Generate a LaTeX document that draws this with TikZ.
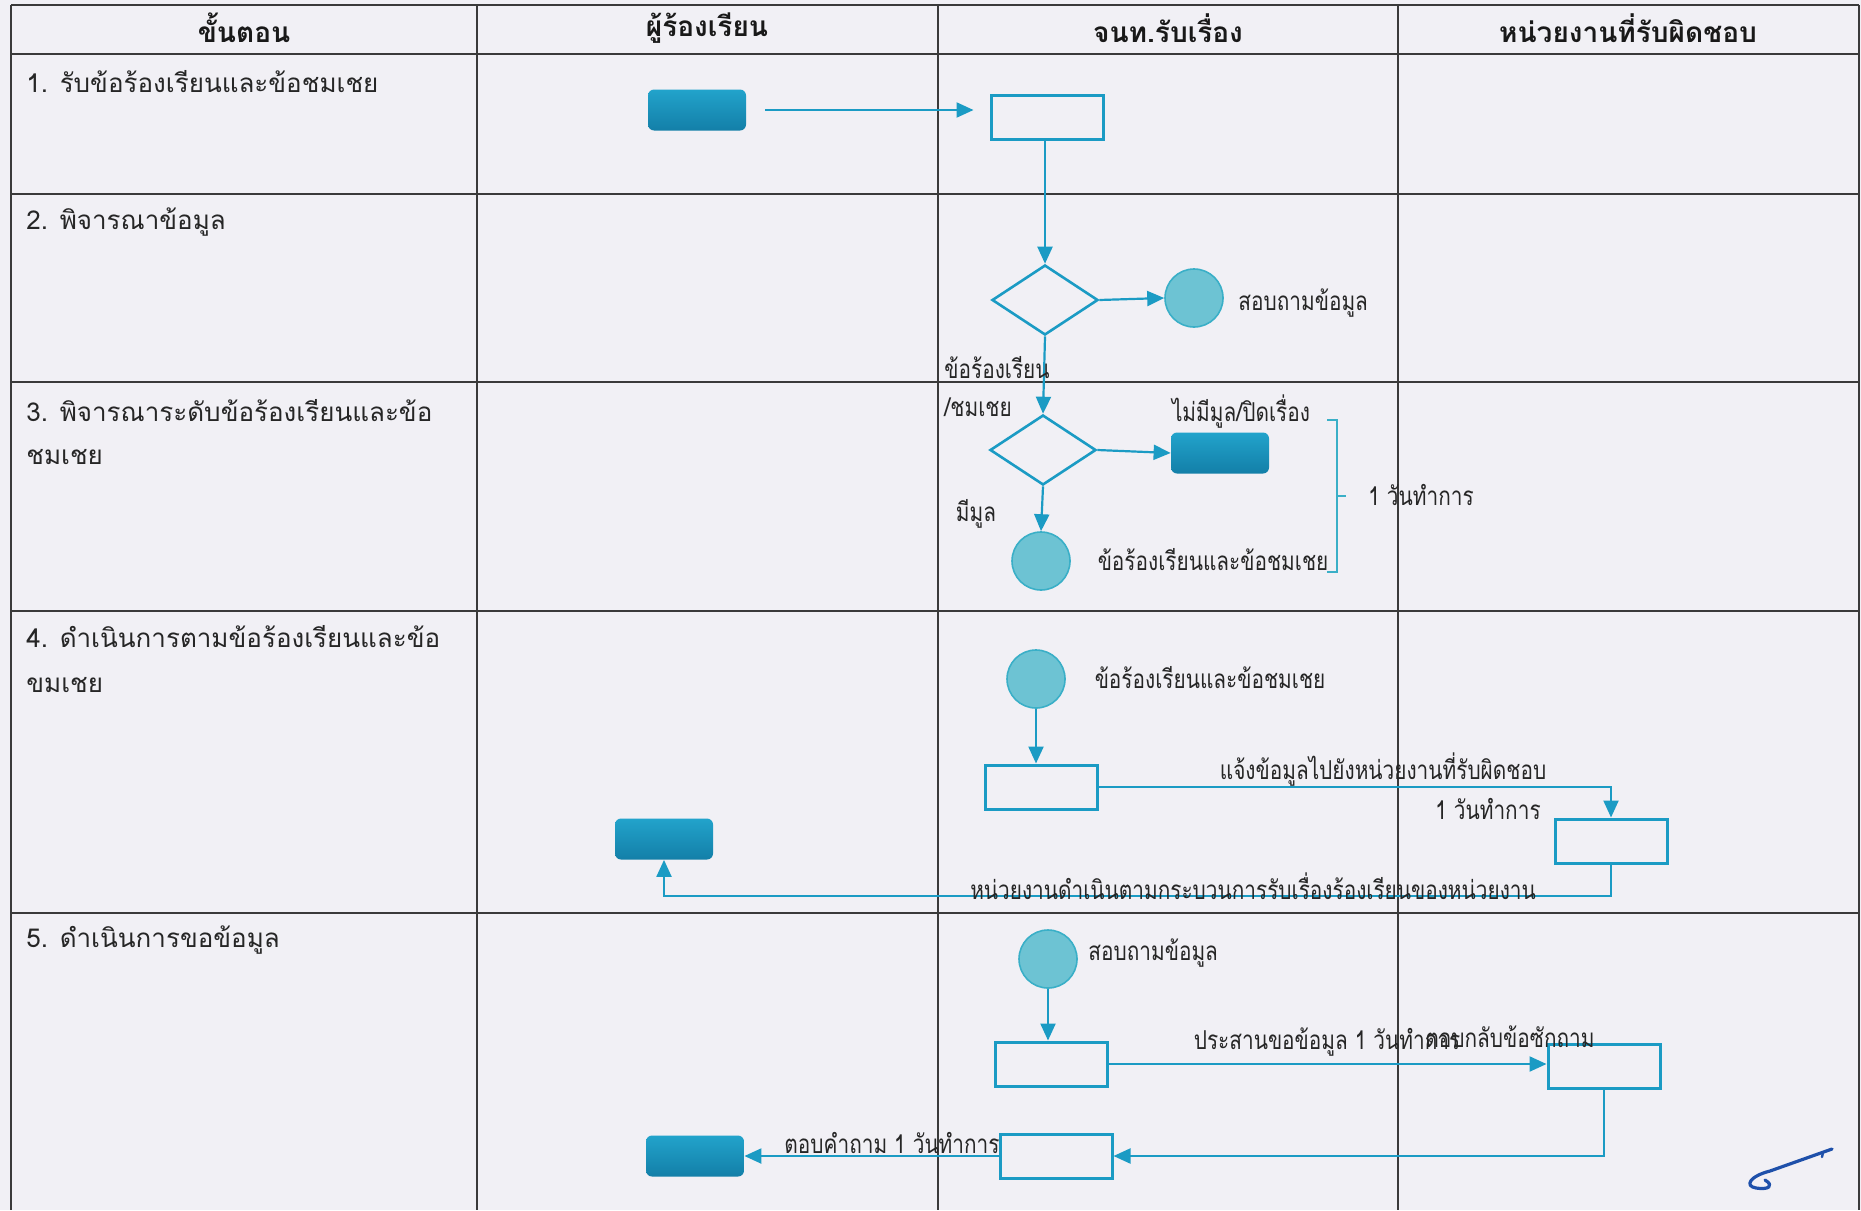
\documentclass[tikz,border=0pt]{standalone}
\usepackage{fontspec}
\newfontfamily\thaifont[Script=Thai]{Loma}
\newfontfamily\thainarrow[Script=Thai,FakeStretch=0.8]{Loma}
\usetikzlibrary{arrows.meta,shapes.geometric}
\definecolor{flow}{RGB}{27,155,196}
\definecolor{circfill}{RGB}{109,195,211}
\definecolor{circline}{RGB}{58,175,199}
\definecolor{endtop}{RGB}{34,163,203}
\definecolor{endbot}{RGB}{19,127,168}
\definecolor{paper}{RGB}{241,240,245}
\definecolor{grid}{RGB}{58,58,58}
\definecolor{sigblue}{RGB}{30,80,170}

\begin{document}
\begin{tikzpicture}[x=0.5pt,y=-0.5pt]
\tikzstyle{endbox} = [rounded corners=3pt, minimum width=49pt, minimum height=20.5pt, top color=endtop, bottom color=endbot, inner sep=0pt] % filled end box
\tikzstyle{actbox} = [rectangle, draw=flow, line width=1.5pt, minimum width=56pt, minimum height=22pt, inner sep=0pt] % white task box
\tikzstyle{decide} = [diamond, draw=flow, line width=1.3pt, minimum width=53pt, minimum height=35pt, inner sep=0pt] % decision
\tikzstyle{conn} = [circle, draw=circline, fill=circfill, line width=0.8pt, minimum size=29pt, inner sep=0pt] % connector circle
\tikzstyle{flowline} = [draw=flow, line width=1.1pt, -{Triangle[length=8.5pt,width=7.5pt]}] % arrow
\tikzstyle{lbl} = [font=\thainarrow\fontsize{13}{15}\selectfont, text=black!85, inner sep=0pt] % label on chart
\tikzstyle{steptxt} = [font=\thaifont\fontsize{13}{15}\selectfont, text=black!85, anchor=west, inner sep=0pt] % step text
\tikzstyle{headtxt} = [font=\thaifont\bfseries\fontsize{14}{16}\selectfont, text=black!90, inner sep=0pt] % header

\useasboundingbox (0,0) rectangle (1861,1210);
\fill[paper] (0,0) rectangle (1861,1210);

% table
\draw[grid, line width=0.8pt] (11,5) -- (1859,5) (11,54) -- (1859,54) (11,194) -- (1859,194)
  (11,382) -- (1859,382) (11,611) -- (1859,611) (11,913) -- (1859,913);
\draw[grid, line width=0.8pt] (11,5) -- (11,1210) (477,5) -- (477,1210) (938,5) -- (938,1210)
  (1398,5) -- (1398,1210) (1859,5) -- (1859,1210);

\node[headtxt] (h1) at (244,28) {ขั้นตอน};
\node[headtxt] (h2) at (707,28) {ผู้ร้องเรียน};
\node[headtxt] (h3) at (1168,28) {จนท.รับเรื่อง};
\node[headtxt] (h4) at (1628,28) {หน่วยงานที่รับผิดชอบ};

\node[steptxt] (s1) at (26,82) {1. รับข้อร้องเรียนและข้อชมเชย};
\node[steptxt] (s2) at (26,222) {2. พิจารณาข้อมูล};
\node[steptxt] (s3) at (26,411) {3. พิจารณาระดับข้อร้องเรียนและข้อ};
\node[steptxt] (s3b) at (26,457) {ชมเชย};
\node[steptxt] (s4) at (26,637) {4. ดำเนินการตามข้อร้องเรียนและข้อ};
\node[steptxt] (s4b) at (26,685) {ขมเชย};
\node[steptxt] (s5) at (26,940) {5. ดำเนินการขอข้อมูล};

% step 1
\node[endbox] (start1) at (697,110) {};
\node[actbox] (rect1) at (1047,117) {};
\draw[flowline, shorten <=9.5pt, shorten >=8pt] (start1.east) -- (start1.east -| rect1.west);

% step 2
\node[decide] (dec1) at (1045,300) {};
\node[conn] (q1) at (1194,298) {};
\node[lbl, anchor=west] (tq1) at (1238,303) {สอบถามข้อมูล};
\draw[flowline] (rect1.south -| dec1.north) -- (dec1.north);
\draw[flowline] (dec1.east) -- (q1.west);

% step 3
\node[decide] (dec2) at (1043,450) {};
\node[endbox] (end2) at (1220,453) {};
\node[conn] (a1) at (1041,561) {};
\draw[flowline] (dec1.south) -- (dec2.north);
\draw[flowline] (dec2.east) -- (end2.west);
\draw[flowline] (dec2.south) -- (a1.north);
\node[lbl, anchor=west] (ta) at (944,368) {ข้อร้องเรียน};
\node[lbl, anchor=west] (tb) at (944,407) {/ชมเชย};
\node[lbl] (tc) at (1241,412) {ไม่มีมูล/ปิดเรื่อง};
\node[lbl] (td) at (976,514) {มีมูล};
\node[lbl] (te) at (1213,560) {ข้อร้องเรียนและข้อชมเชย};
\draw[circline, line width=0.8pt] (1327,420) -- (1337,420) -- (1337,572) -- (1327,572) (1337,496) -- (1346,496); % bracket
\node[lbl, anchor=west] (tf) at (1368,495) {1 วันทำการ};

% step 4
\node[conn] (a2) at (1036,679) {};
\node[lbl] (tg) at (1210,678) {ข้อร้องเรียนและข้อชมเชย};
\node[actbox] (r4) at (1041,787) {};
\node[actbox] (r4b) at (1611,841) {};
\node[endbox] (end4) at (664,839) {};
\coordinate (low4) at (1611,896);
\draw[flowline] (a2.south) -- (a2.south |- r4.north);
\draw[flowline] (r4.east) -| (r4b.north);
\draw[flowline] (r4b.south) -- (low4) -| (end4.south);
\node[lbl] (th) at (1383,770) {แจ้งข้อมูลไปยังหน่วยงานที่รับผิดชอบ};
\node[lbl] (ti) at (1488,809) {1 วันทำการ};
\node[lbl] (tj) at (1253,886) {หน่วยงานดำเนินตามกระบวนการรับเรื่องร้องเรียนของหน่วยงาน};

% step 5
\node[conn] (q2) at (1048,959) {};
\node[lbl, anchor=west] (tk) at (1088,953) {สอบถามข้อมูล};
\node[actbox] (r5) at (1051,1064) {};
\node[actbox] (r5b) at (1604,1066) {};
\node[actbox] (r5c) at (1056,1156) {};
\node[endbox] (end5) at (695,1156) {};
\draw[flowline] (q2.south) -- (q2.south |- r5.north);
\draw[flowline] (r5.east) -- (r5.east -| r5b.west);
\draw[flowline] (r5b.south) |- (r5c.east);
\draw[flowline] (r5c.west) -- (end5.east);
\node[lbl] (tl) at (1327,1042) {ประสานขอข้อมูล 1 วันทำการ};
\node[lbl] (tm) at (1510,1037) {ตอบกลับข้อซักถาม};
\node[lbl] (tn) at (892,1143) {ตอบคำถาม 1 วันทำการ};

% signature
\draw[sigblue, line width=1.6pt, line cap=round, line join=round] (1832,1149) -- (1770,1171)
  .. controls (1750,1176) and (1744,1186) .. (1756,1188) .. controls (1768,1190) and (1775,1186) .. (1765,1180);
\draw[sigblue, line width=1.2pt, line cap=round] (1823,1152) -- (1822,1157);
\end{tikzpicture}
\end{document}
